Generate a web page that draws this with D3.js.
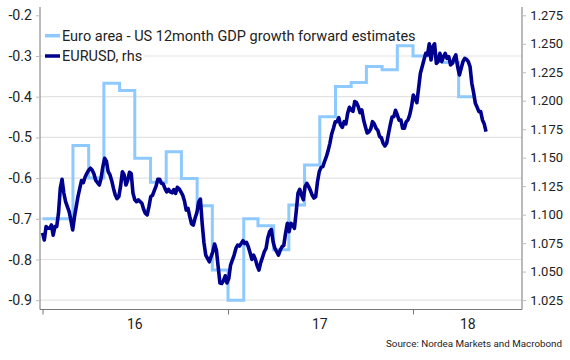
<!DOCTYPE html>
<html><head><meta charset="utf-8">
<script src="https://cdn.jsdelivr.net/npm/d3@7/dist/d3.min.js"></script>
<style>
body{margin:0;background:#fff}
svg text{font-family:Roboto,"Noto Sans",sans-serif;fill:#222}
</style>
</head><body>
<svg id="chart" width="570" height="360"></svg>
<script>
// ---- data ----
const gdpDates = ["2016-01-01","2016-02-01","2016-03-01","2016-04-01","2016-05-01","2016-06-01","2016-07-01","2016-08-01","2016-09-01","2016-10-01","2016-11-01","2016-12-01","2017-01-01","2017-02-01","2017-03-01","2017-04-01","2017-05-01","2017-06-01","2017-07-01","2017-08-01","2017-09-01","2017-10-01","2017-11-01","2017-12-01","2018-01-01","2018-02-01","2018-03-01","2018-04-01","2018-05-01"];
const gdpValues = [-0.70,-0.70,-0.52,-0.60,-0.367,-0.385,-0.551,-0.610,-0.535,-0.601,-0.668,-0.826,-0.90,-0.70,-0.717,-0.776,-0.666,-0.568,-0.449,-0.375,-0.365,-0.326,-0.334,-0.275,-0.30,-0.30,-0.316,-0.40,-0.40];

const fxStartDate = "2016-01-01"; // observations every half week (3.5 days) from this date
const fxValues = [
1.084,1.0777,1.0895,1.0880,1.088,1.0909,1.082,1.0895,1.0895,1.1012,
1.123,1.1310,1.119,1.1114,1.107,1.1026,1.095,1.0865,1.098,1.1070,
1.116,1.1231,1.130,1.1281,1.133,1.1363,1.139,1.1407,1.139,1.1357,
1.130,1.1281,1.126,1.1319,1.142,1.1495,1.147,1.1377,1.135,1.1298,
1.123,1.1173,1.114,1.1158,1.125,1.1377,1.135,1.1260,1.130,1.1372,
1.136,1.1187,1.113,1.1114,1.113,1.1114,1.110,1.1047,1.101,1.0997,
1.107,1.1158,1.117,1.1211,1.125,1.1310,1.131,1.1275,1.127,1.1231,
1.120,1.1222,1.120,1.1192,1.122,1.1186,1.124,1.1227,1.120,1.1172,
1.112,1.1040,1.1055,1.0982,1.092,1.0908,1.097,1.1017,1.111,1.1137,
1.092,1.0753,1.0645,1.0616,1.0586,1.0630,1.0674,1.0742,1.0689,1.0543,
1.040,1.0396,1.042,1.0463,1.040,1.0440,1.0557,1.0601,1.0645,1.0703,
1.0733,1.0724,1.0747,1.0771,1.0747,1.0756,1.0718,1.0665,1.0607,1.0645,
1.0607,1.0551,1.0513,1.0578,1.0624,1.0674,1.0703,1.0797,1.085,1.0870,
1.076,1.0703,1.0674,1.0645,1.0689,1.0718,1.073,1.0836,1.0924,1.0850,
1.0924,1.0909,1.088,1.1026,1.1187,1.1222,1.1172,1.1131,1.1246,1.1275,
1.1246,1.1213,1.1172,1.1146,1.1158,1.1289,1.1377,1.1415,1.1421,1.1468,
1.1509,1.1562,1.1626,1.1708,1.1758,1.1816,1.1816,1.1851,1.1787,1.1766,
1.1816,1.1796,1.1889,1.1942,1.1919,1.1907,1.1992,1.1983,1.1948,1.1895,
1.1919,1.1831,1.1772,1.1717,1.1728,1.1752,1.1816,1.1796,1.1758,1.1740,
1.1685,1.1676,1.1626,1.1603,1.1626,1.1708,1.1787,1.1857,1.1860,1.1916,
1.1875,1.183,1.1831,1.1758,1.1758,1.1816,1.1831,1.1875,1.1948,1.2050,
1.2021,1.1983,1.2109,1.2241,1.2299,1.2358,1.2416,1.2402,1.2500,1.2358,
1.2475,1.2500,1.2328,1.2343,1.2416,1.2343,1.2387,1.2416,1.2372,1.2387,
1.2314,1.2328,1.2372,1.2402,1.2299,1.2226,1.2285,1.2343,1.2372,1.2364,
1.2343,1.2299,1.2153,1.2071,1.1977,1.1942,1.1904,1.1904,1.1831,1.1796,
1.1728];

const leftTicks = [-0.9,-0.8,-0.7,-0.6,-0.5,-0.4,-0.3,-0.2];
const rightTicks = [1.025,1.050,1.075,1.100,1.125,1.150,1.175,1.200,1.225,1.250,1.275];
const xTickDates = ["2016-01-01","2017-01-01","2018-01-01"];
const xLabels = ["16","17","18"];
const xLabelDates = ["2016-07-01","2017-07-01","2018-04-19"];
const legendLabels = ["Euro area - US 12month GDP growth forward estimates","EURUSD, rhs"];
const sourceText = "Source: Nordea Markets and Macrobond";

// ---- layout ----
const L = 40, R = 522, T = 7, B = 309.5;
const parse = d3.utcParse("%Y-%m-%d");
const svg = d3.select("#chart");

const x = d3.scaleUtc().domain([parse("2015-12-27"), parse("2018-08-04")]).range([L, R]);
const yL = d3.scaleLinear().domain([-0.9229, -0.1796]).range([B, T]);
const yR = d3.scaleLinear().domain([1.0167, 1.2823]).range([B, T]);

const gdp = gdpDates.map((d,i)=>({date:parse(d), v:gdpValues[i]}));
const start = parse(fxStartDate);
const fx = fxValues.map((v,i)=>({date:d3.utcHour.offset(start, i*84), v}));

// gridlines (left ticks, none at the top one)
svg.append("g").selectAll("line").data(leftTicks.filter(t=>t<-0.25)).join("line")
  .attr("x1",L).attr("x2",R).attr("y1",d=>yL(d)).attr("y2",d=>yL(d))
  .attr("stroke","#e3e3e3").attr("stroke-width",1.2);

// left axis
const gL = svg.append("g").attr("transform",`translate(${L},0)`)
  .call(d3.axisLeft(yL).tickValues(leftTicks).tickSize(4).tickPadding(4).tickFormat(d=>d.toFixed(1)));
gL.select(".domain").attr("stroke","#777").attr("d",`M0,${T}V${B}`);
gL.selectAll(".tick line").attr("stroke","#bbb");
gL.selectAll(".tick text").attr("font-size",14.2).attr("fill","#222").attr("font-family","Roboto");

// right axis
const gR = svg.append("g").attr("transform",`translate(${R},0)`)
  .call(d3.axisRight(yR).tickValues(rightTicks).tickSize(4).tickPadding(8).tickFormat(d=>d.toFixed(3)));
gR.select(".domain").attr("stroke","#777").attr("d",`M0,${T}V${B}`);
gR.selectAll(".tick line").attr("stroke","#bbb");
gR.selectAll(".tick text").attr("font-size",13).attr("fill","#222").attr("font-family","Roboto")
  .attr("text-anchor","end").attr("x",41);

// bottom axis
const gB = svg.append("g").attr("transform",`translate(0,${B})`)
  .call(d3.axisBottom(x).tickValues(xTickDates.map(parse)).tickSize(5).tickFormat(""));
gB.select(".domain").attr("stroke","#777").attr("d",`M${L},0H${R}`);
gB.selectAll(".tick line").attr("stroke","#777");
svg.append("g").selectAll("text").data(xLabels).join("text")
  .attr("x",(d,i)=>x(parse(xLabelDates[i]))).attr("y",324).attr("dy","0.35em")
  .attr("text-anchor","middle").attr("font-size",14).text(d=>d);

// lines
svg.append("path").datum(gdp)
  .attr("fill","none").attr("stroke","#8ec9ff").attr("stroke-width",3)
  .attr("d", d3.line().curve(d3.curveStepAfter).x(d=>x(d.date)).y(d=>yL(d.v)));
svg.append("path").datum(fx)
  .attr("fill","none").attr("stroke","#00008f").attr("stroke-width",3.6).attr("stroke-linejoin","round")
  .attr("d", d3.line().x(d=>x(d.date)).y(d=>yR(d.v)));

// legend
const legColors = ["#8ec9ff","#00008f"];
const legY = [35.7, 56];
legendLabels.forEach((t,i)=>{
  const g = svg.append("g");
  const bg = g.append("rect").attr("fill","#fff");
  g.append("line").attr("x1",45).attr("x2",60).attr("y1",legY[i]).attr("y2",legY[i])
    .attr("stroke",legColors[i]).attr("stroke-width",3.5);
  const tx = g.append("text").attr("x",62).attr("y",legY[i]).attr("dy","0.35em")
    .attr("font-size",14.5).text(t);
  const w = tx.node().getComputedTextLength();
  bg.attr("x",44).attr("y",legY[i]-8).attr("width",w+20).attr("height",16);
});

// source
svg.append("text").attr("x",562).attr("y",344).attr("dy","0.35em")
  .attr("text-anchor","end").attr("font-size",9.8).attr("fill","#222").text(sourceText);
</script>
</body></html>
